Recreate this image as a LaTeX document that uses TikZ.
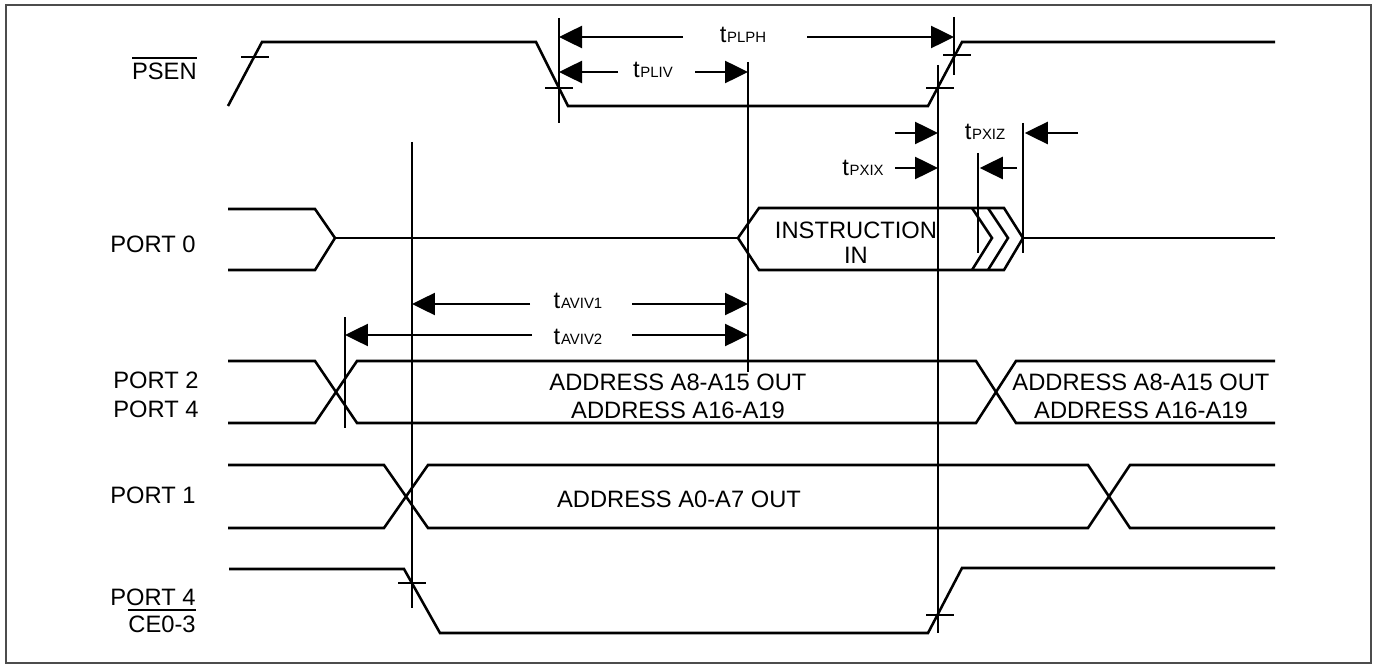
\documentclass[tikz,border=0pt]{standalone}
\usepackage{fontspec}
\setmainfont{Liberation Sans}
\usepackage{tikz}
\usetikzlibrary{arrows.meta}
\newcommand{\lblfont}{\fontsize{13.5}{16}\selectfont}
\newcommand{\tsub}[1]{t\kern0.4pt{\fontsize{8.5}{8.5}\selectfont #1}}
\newcommand{\ovl}[1]{\vbox{\hrule height 1.1pt\kern 2.6pt\hbox{#1}}}

\begin{document}
\begin{tikzpicture}[
    x=0.02cm, y=-0.02cm,
    sig/.style={line width=1.45pt},
    vline/.style={line width=1.3pt},
    edgetick/.style={line width=1.2pt},
    tarr/.style={line width=1.45pt, -{Triangle[length=0.46cm, width=0.44cm]}},
    lbl/.style={font=\lblfont, inner sep=0},
    tlbl/.style={font=\lblfont, inner sep=0, anchor=base}]

\useasboundingbox (0,0) rectangle (1377,669);
\draw[black!70, line width=1.1pt] (6,5) rectangle (1371,663);

\node[lbl, anchor=base east] (psen) at (197,80)  {\ovl{PSEN}};
\node[lbl, anchor=base east] (p0)   at (196,253) {PORT 0};
\node[lbl, anchor=base east] (p2)   at (199,388) {PORT 2};
\node[lbl, anchor=base east] (p4)   at (199,417) {PORT 4};
\node[lbl, anchor=base east] (p1)   at (196,503) {PORT 1};
\node[lbl, anchor=base east] (p4b)  at (196,605) {PORT 4};
\node[lbl, anchor=base east] (ce)   at (196,632) {\ovl{CE0-3}};

\node[lbl, anchor=base] (instr) at (856,238) {INSTRUCTION};
\node[lbl, anchor=base] (instrb) at (856,263) {IN};
\node[lbl, anchor=base] (adhiA) at (678,390)  {ADDRESS A8-A15 OUT};
\node[lbl, anchor=base] (adtopA) at (678,418) {ADDRESS A16-A19};
\node[lbl, anchor=base] (adhiB) at (1141,390) {ADDRESS A8-A15 OUT};
\node[lbl, anchor=base] (adtopB) at (1141,418) {ADDRESS A16-A19};
\node[lbl, anchor=base] (adlo) at (679,507)   {ADDRESS A0-A7 OUT};

% signals
\draw[sig] (228,106) -- (262,42) -- (536,42) -- (568,106) -- (928,106) -- (962,42) -- (1275,42);
\draw[sig] (228,209) -- (315,209) -- (335,238) -- (315,270) -- (228,270);
\draw[sig] (335,238) -- (738,238);
\draw[sig] (738,238) -- (759,208) -- (1004,208) -- (1023,238) -- (1004,270) -- (759,270) -- cycle;
\draw[sig] (1023,238) -- (1275,238);
\draw[sig] (972,208) -- (992,238) -- (972,270);
\draw[sig] (988,208) -- (1008,238) -- (988,270);
\draw[sig] (228,361) -- (315,361) -- (357,423) -- (976,423) -- (1016,361) -- (1275,361);
\draw[sig] (228,423) -- (315,423) -- (357,361) -- (976,361) -- (1016,423) -- (1275,423);
\draw[sig] (228,465) -- (384,465) -- (428,528) -- (1088,528) -- (1130,465) -- (1275,465);
\draw[sig] (228,528) -- (384,528) -- (428,465) -- (1088,465) -- (1130,528) -- (1275,528);
\draw[sig] (229,569) -- (404,569) -- (440,633) -- (928,633) -- (962,568) -- (1275,568);

\foreach \x/\y in {255/57, 559/88, 940/88, 957/55, 412/583, 940/615}
    \draw[edgetick] (\x-14,\y) -- (\x+14,\y);

% reference lines
\coordinate (mAt) at (559,18);  \coordinate (mAb) at (559,123);
\coordinate (mBt) at (954,17);  \coordinate (mBb) at (954,75);
\coordinate (mCt) at (748,62);  \coordinate (mCb) at (748,372);
\coordinate (mDt) at (938,65);  \coordinate (mDb) at (938,633);
\coordinate (mEt) at (412,142); \coordinate (mEb) at (412,608);
\coordinate (mFt) at (345,317); \coordinate (mFb) at (345,428);
\coordinate (mGt) at (1023,123); \coordinate (mGb) at (1023,253);
\coordinate (mHt) at (978,153); \coordinate (mHb) at (978,253);
\foreach \m in {A,B,C,D,E,F,G,H}
    \draw[vline] (m\m t) -- (m\m b);

% timing arrows
\node[tlbl] (lPLPH) at (743,43)  {\tsub{PLPH}};
\node[tlbl] (lPLIV) at (653,78)  {\tsub{PLIV}};
\node[tlbl] (lPXIZ) at (985,140) {\tsub{PXIZ}};
\node[tlbl] (lPXIX) at (863,175) {\tsub{PXIX}};
\node[tlbl] (lAVIV1) at (578,308) {\tsub{AVIV1}};
\node[tlbl] (lAVIV2) at (578,344) {\tsub{AVIV2}};

\coordinate (PLPHl) at (683,37);  \coordinate (PLPHr) at (807,37);
\coordinate (PLIVl) at (618,72);  \coordinate (PLIVr) at (695,72);
\coordinate (PXIXa) at (895,133); \coordinate (PXIXb) at (895,168);
\coordinate (PXIZa) at (1078,133); \coordinate (PXIZb) at (1017,168);
\coordinate (AVIV1l) at (530,304); \coordinate (AVIV1r) at (632,304);
\coordinate (AVIV2l) at (532,335); \coordinate (AVIV2r) at (632,335);

\draw[tarr] (PLPHl) -- (PLPHl -| mAt);
\draw[tarr] (PLPHr) -- (PLPHr -| mBt);
\draw[tarr] (PLIVl) -- (PLIVl -| mAt);
\draw[tarr] (PLIVr) -- (PLIVr -| mCt);
\draw[tarr] (PXIXa) -- (PXIXa -| mDt);
\draw[tarr] (PXIXb) -- (PXIXb -| mDt);
\draw[tarr] (PXIZa) -- ([xshift=1pt]PXIZa -| mGt);
\draw[tarr] (PXIZb) -- ([xshift=1pt]PXIZb -| mHt);
\draw[tarr] (AVIV1l) -- (AVIV1l -| mEt);
\draw[tarr] (AVIV1r) -- (AVIV1r -| mCt);
\draw[tarr] (AVIV2l) -- (AVIV2l -| mFt);
\draw[tarr] (AVIV2r) -- (AVIV2r -| mCt);

\end{tikzpicture}
\end{document}
